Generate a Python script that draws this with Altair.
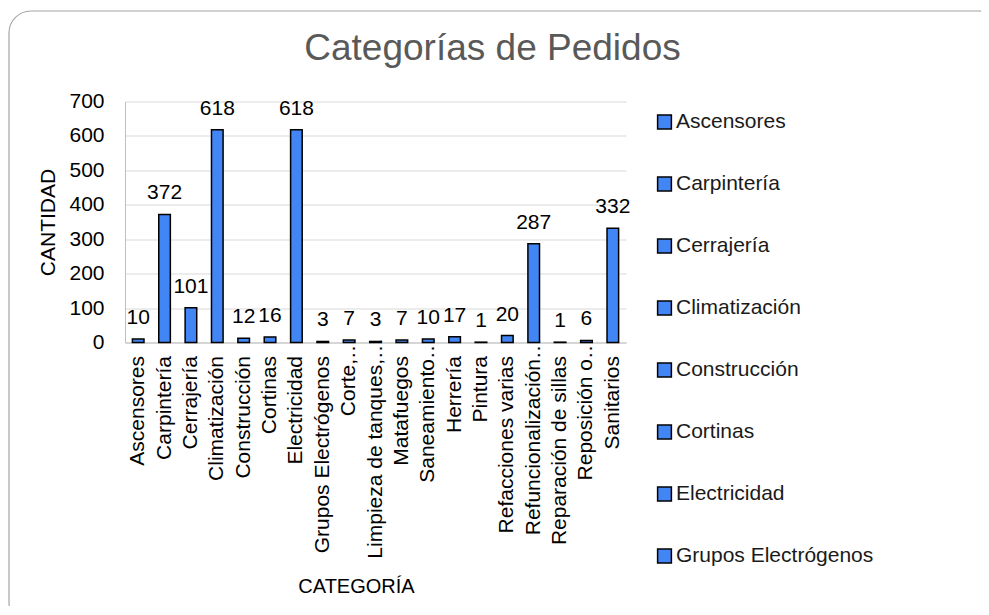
import altair as alt
import pandas as pd

categories = [
    "Ascensores", "Carpintería", "Cerrajería", "Climatización", "Construcción",
    "Cortinas", "Electricidad", "Grupos Electrógenos", "Corte,…",
    "Limpieza de tanques,…", "Matafuegos", "Saneamiento…", "Herrería", "Pintura",
    "Refacciones varias", "Refuncionalización…", "Reparación de sillas",
    "Reposición o…", "Sanitarios",
]
values = [10, 372, 101, 618, 12, 16, 618, 3, 7, 3, 7, 10, 17, 1, 20, 287, 1, 6, 332]
legend_items = categories[:8]
y_ticks = [0, 100, 200, 300, 400, 500, 600, 700]

BLUE = "#4285F4"
FONT = "Liberation Sans"

df = pd.DataFrame({"cat": categories, "n": values})

x_enc = alt.X(
    "cat:N", sort=categories,
    scale=alt.Scale(paddingInner=0.56, paddingOuter=0.28),
    axis=alt.Axis(
        title="CATEGORÍA", labelAngle=-90, labelFontSize=21, labelColor="#000000",
        labelFont=FONT,
        labelPadding=alt.condition("indexof(datum.value, '…') >= 0", alt.value(-5), alt.value(13)),
        ticks=False, domainColor="#BFBFBF",
        titleFont=FONT, titleFontSize=20, titleFontWeight="normal", titleColor="#000000",
        titleX=231, titleY=250, titleBaseline="alphabetic", labelLimit=400,
        labelOverlap=False,
    ),
)

y_enc = alt.Y(
    "n:Q", scale=alt.Scale(domain=[0, 700], nice=False),
    axis=alt.Axis(
        title="CANTIDAD", values=y_ticks, labelFontSize=21, labelColor="#000000",
        labelFont=FONT, ticks=False, labelPadding=21, gridColor="#D9D9D9",
        domainColor="#BFBFBF", titleFont=FONT, titleFontSize=21,
        titleFontWeight="normal", titleColor="#000000", titlePadding=10,
        labelOverlap=False,
    ),
)

bars = alt.Chart(df).mark_bar(stroke="black", strokeWidth=1.5).encode(
    x=x_enc,
    y=y_enc,
    color=alt.Color(
        "cat:N", sort=categories,
        scale=alt.Scale(domain=categories, range=[BLUE] * len(categories)),
        legend=alt.Legend(
            values=legend_items, orient="none", legendX=529, legendY=10, title=None,
            labelFontSize=21, labelFont=FONT, labelColor="#1A1A1A", symbolType="square",
            symbolSize=190, symbolStrokeColor="black", symbolStrokeWidth=1.5,
            labelOffset=1, rowPadding=40, labelLimit=400,
        ),
    ),
)

labels = alt.Chart(df).mark_text(
    baseline="alphabetic", dy=-15, fontSize=21, font=FONT, color="#000000"
).encode(
    x=x_enc,
    y=y_enc,
    text=alt.Text("n:Q"),
)

frame = alt.Chart(pd.DataFrame({"a": [0]})).mark_rect(
    fill="transparent", stroke="#A6A6A6", strokeWidth=1.2, cornerRadius=22
).encode(
    x=alt.value(-116), x2=alt.value(875), y=alt.value(-90.5), y2=alt.value(523),
)

chart = alt.layer(frame, bars, labels).properties(
    width=501, height=241,
    autosize="none",
    background="white",
    padding={"left": 117, "top": 93.5, "right": 355, "bottom": 263},
    title=alt.TitleParams(
        "Categorías de Pedidos", fontSize=37, font=FONT, color="#595959",
        fontWeight="normal", anchor="middle", frame="group", dx=117, offset=-87,
        baseline="alphabetic",
    ),
).configure_view(stroke=None)

chart.save("out.html", embed_options={"renderer": "svg", "actions": False})
